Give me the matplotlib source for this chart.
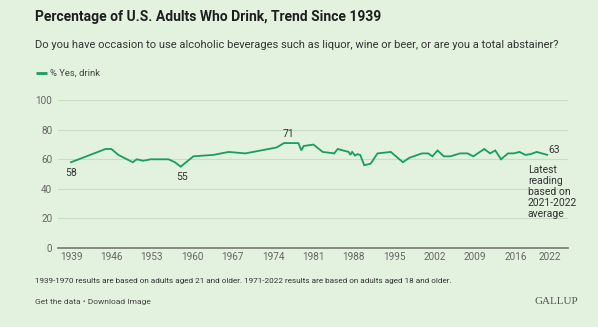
import matplotlib.pyplot as plt

# Share of U.S. adults who say they drink (Gallup)
years = [1939, 1945, 1946, 1947.2, 1949.7, 1950.4, 1951.5, 1952.8, 1955.9,
         1957.0, 1958.0, 1960.2, 1963.7, 1966.3, 1969.2, 1974.6, 1975.9,
         1978.4, 1978.9, 1979.3, 1981.0, 1982.6, 1984.6, 1985.2, 1987.1,
         1987.4, 1987.7, 1988.2, 1988.6, 1989.1, 1989.8, 1990.9, 1992.1,
         1994.4, 1996.5, 1997.6, 1999.8, 2000.9, 2001.6, 2002.5, 2003.6,
         2004.7, 2006.4, 2007.7, 2008.7, 2010.6, 2011.6, 2012.5, 2013.5,
         2014.7, 2015.7, 2016.7, 2017.7, 2018.6, 2019.7, 2021.5]
pct_drink = [58, 67, 67, 63, 58, 60, 59, 60, 60,
             58, 55, 62, 63, 65, 64, 68, 71,
             71, 66, 69, 70, 65, 64, 67, 65,
             63, 65, 62.5, 63.5, 63, 56, 57, 64,
             65, 58, 61, 64, 64, 62, 66, 62,
             62, 64, 64, 62, 67, 64, 66, 60,
             64, 64, 65, 63, 63.5, 65, 63]
xticks = [1939, 1946, 1953, 1960, 1967, 1974, 1981, 1988, 1995, 2002, 2009, 2016, 2022]
yticks = [0, 20, 40, 60, 80, 100]

BG = '#e3f1df'
GREEN = '#16a05c'
W, H = 598, 327

plt.rcParams['font.family'] = ['Roboto', 'DejaVu Sans']

fig = plt.figure(figsize=(W / 100, H / 100), dpi=100, facecolor=BG)


def px(x, y):
    return x / W, 1 - y / H


ax = fig.add_axes([58 / W, 1 - 247.8 / H, (568 - 58) / W, (247.8 - 100.3) / H])
ax.set_facecolor(BG)
ax.plot(years, pct_drink, color=GREEN, lw=1.3, solid_joinstyle='miter', zorder=3)

ax.set_xlim(1936.75, 2025.1)
ax.set_ylim(0, 100)
ax.set_xticks(xticks)
ax.set_yticks(yticks)
ax.tick_params(length=0, labelsize=7.2, colors='#666666')
ax.tick_params(axis='x', pad=3)
ax.tick_params(axis='y', pad=4)
ax.grid(axis='y', color='#cadbc6', lw=0.8)
ax.set_axisbelow(True)
for s in ['top', 'right', 'left']:
    ax.spines[s].set_visible(False)
ax.spines['bottom'].set_color('#777770')
ax.spines['bottom'].set_linewidth(1.2)

# value labels on first, low, peak and latest readings
lab = dict(fontsize=7.5, color='#333333')
ax.annotate(f'{pct_drink[0]}', (years[0], pct_drink[0]), xytext=(0, -4),
            textcoords='offset points', ha='center', va='top', **lab)
i55 = pct_drink.index(55)
ax.annotate(f'{pct_drink[i55]}', (years[i55], pct_drink[i55]), xytext=(1, -4),
            textcoords='offset points', ha='center', va='top', **lab)
i71 = pct_drink.index(71)
ax.annotate(f'{pct_drink[i71]}', (years[i71], pct_drink[i71]), xytext=(3, 3),
            textcoords='offset points', ha='center', va='bottom', **lab)
ax.annotate(f'{pct_drink[-1]}', (years[-1], pct_drink[-1]), xytext=(1, 0),
            textcoords='offset points', ha='left', va='bottom', **lab)
ax.annotate('Latest\nreading\nbased on\n2021-2022\naverage', (years[-1], pct_drink[-1]),
            xytext=(-14, -7), textcoords='offset points', ha='left', va='top',
            linespacing=1.15, **lab)

fig.text(*px(35, 17), 'Percentage of U.S. Adults Who Drink, Trend Since 1939',
         fontsize=10, fontweight='bold', color='#1e1e1e', va='center')
fig.text(*px(35, 45), 'Do you have occasion to use alcoholic beverages such as liquor, '
         'wine or beer, or are you a total abstainer?',
         fontsize=8, color='#333333', va='center')

# legend
fig.add_artist(plt.Line2D([36 / W, 46.5 / W], [1 - 73 / H] * 2, color=GREEN,
                          lw=2, solid_capstyle='butt'))
fig.text(*px(50, 73), '% Yes, drink', fontsize=6.8, color='#444444', va='center')

fig.text(*px(35, 281), '1939-1970 results are based on adults aged 21 and older. '
         '1971-2022 results are based on adults aged 18 and older.',
         fontsize=5.9, color='#333333', va='center')
fig.text(*px(35, 302), 'Get the data \u2022 Download Image',
         fontsize=6, color='#444444', va='center')
fig.text(*px(578, 302), 'GALLUP', fontsize=8, family='Liberation Serif',
         color='#555555', ha='right', va='center')

fig.savefig('out.png', dpi=100, facecolor=BG)
